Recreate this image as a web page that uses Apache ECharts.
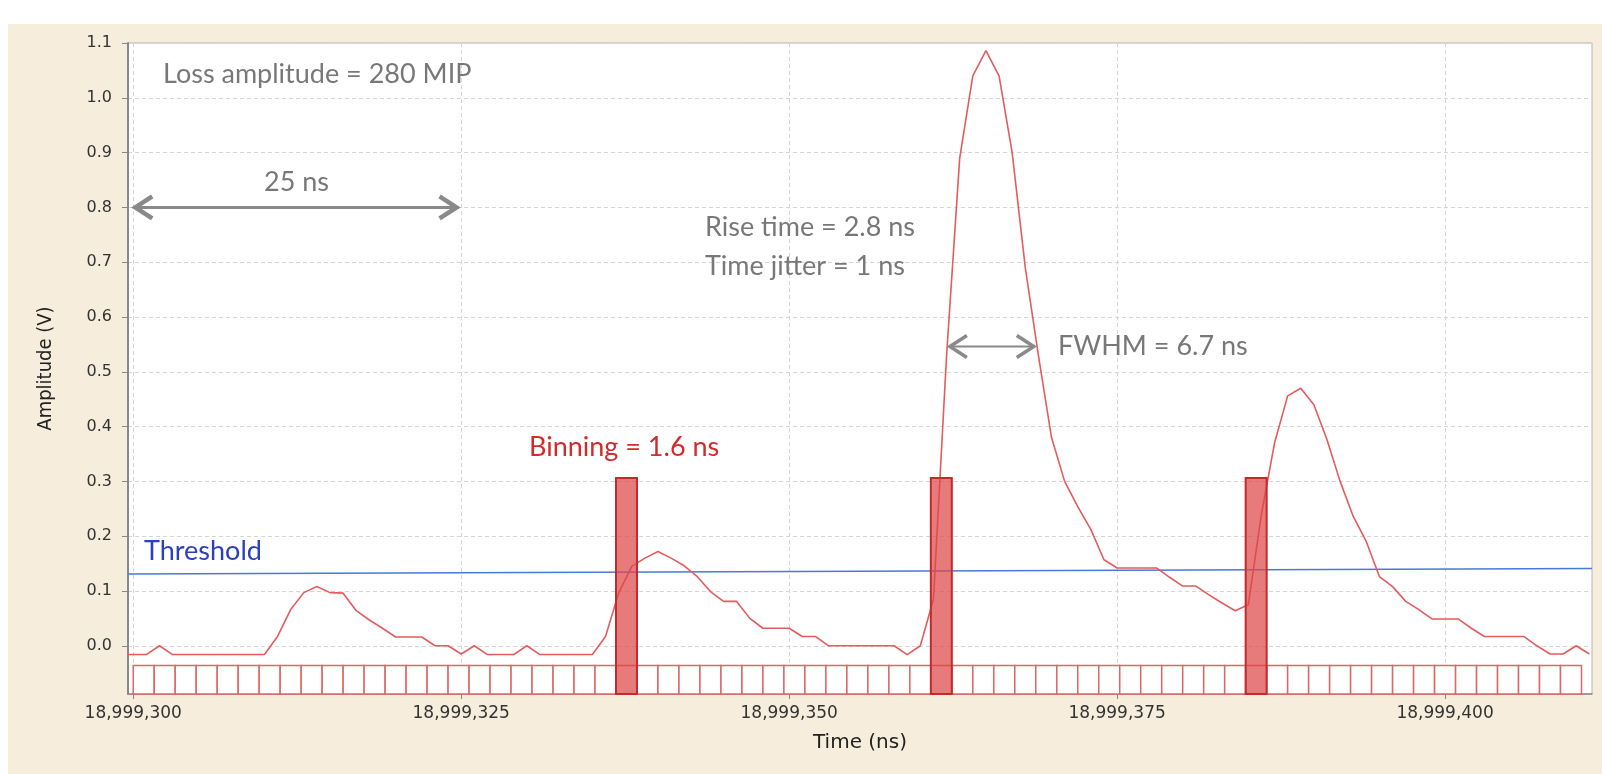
<!DOCTYPE html>
<html>
<head>
<meta charset="utf-8">
<title>Loss signal</title>
<script src="https://cdn.jsdelivr.net/npm/echarts@6/dist/echarts.min.js"></script>
<style>
  html, body { margin: 0; padding: 0; background: #fff; }
  .panel { position: absolute; left: 8px; top: 24px; width: 1594px; height: 750px; background: #f6eddc; }
  #chart { position: absolute; left: 0; top: 0; width: 1602px; height: 774px; }
</style>
</head>
<body>
<div class="panel"></div>
<div id="chart"></div>
<script>
// time in ns relative to 18,999,000
const timeOffset = 18999000;
const sampleTimes = [
  299, 300, 301, 302, 303, 304, 305, 306, 307, 308, 309, 310, 311, 312, 313, 314,
  315, 316, 317, 318, 319, 320, 321, 322, 323, 324, 325, 326, 327, 328, 329, 330,
  331, 332, 333, 334, 335, 336, 337, 338, 339, 340, 341, 342, 343, 344, 345, 346,
  347, 348, 349, 350, 351, 352, 353, 354, 355, 356, 357, 358, 359, 360, 361, 362,
  363, 364, 365, 366, 367, 368, 369, 370, 371, 372, 373, 374, 375, 376, 377, 378,
  379, 380, 381, 382, 383, 384, 385, 386, 387, 388, 389, 390, 391, 392, 393, 394,
  395, 396, 397, 398, 399, 400, 401, 402, 403, 404, 405, 406, 407, 408, 409, 410, 411
];
const amplitude = [
  -0.016, -0.016, -0.016, 0.000, -0.016, -0.016, -0.016, -0.016, -0.016, -0.016, -0.016, -0.016, 0.017, 0.066, 0.097, 0.108,
  0.097, 0.096, 0.064, 0.047, 0.032, 0.016, 0.016, 0.016, 0.000, 0.000, -0.015, 0.000, -0.016, -0.016, -0.016, 0.000,
  -0.016, -0.016, -0.016, -0.016, -0.016, 0.017, 0.096, 0.145, 0.160, 0.172, 0.160, 0.146, 0.126, 0.099, 0.081, 0.081,
  0.050, 0.032, 0.032, 0.032, 0.017, 0.017, 0.000, 0.000, 0.000, 0.000, 0.000, 0.000, -0.016, 0.000, 0.085, 0.530,
  0.890, 1.040, 1.086, 1.040, 0.900, 0.690, 0.530, 0.380, 0.300, 0.254, 0.212, 0.157, 0.142, 0.142, 0.142, 0.142,
  0.125, 0.109, 0.109, 0.093, 0.078, 0.064, 0.075, 0.240, 0.370, 0.456, 0.470, 0.440, 0.376, 0.300, 0.236, 0.190,
  0.126, 0.108, 0.081, 0.066, 0.049, 0.049, 0.049, 0.032, 0.017, 0.017, 0.017, 0.017, 0.000, -0.015, -0.015, 0.000, -0.015
];

// threshold line end points [time, amplitude]
const thresholdLine = [[299.6, 0.131], [411.2, 0.141]];

// 1.6 ns binning
const binStart = 300;
const binWidth = 1.6;
const binCount = 69;
const binBoxTop = -0.036;
const hitBins = [23, 38, 53];
const hitBarTop = 0.306;

// dimension arrows [from, to, amplitude]
const spacingArrow = [[300, 324.8, 0.8]];
const fwhmArrow = [[362.1, 368.8, 0.546]];

const xTicks = [300, 325, 350, 375, 400];
const yTicks = [0, 0.1, 0.2, 0.3, 0.4, 0.5, 0.6, 0.7, 0.8, 0.9, 1.0, 1.1];
const xMin = 299.6, xMax = 411.2, yMin = -0.088, yMax = 1.1;

const bins = [];
for (let i = 0; i < binCount; i++) {
  bins.push([binStart + i * binWidth, binStart + (i + 1) * binWidth]);
}
const hitData = hitBins.map(i => [binStart + i * binWidth, binStart + (i + 1) * binWidth, hitBarTop]);

const chart = echarts.init(document.getElementById('chart'));

function arrowItem(lineWidth) {
  return function (params, api) {
    const a = api.coord([api.value(0), api.value(2)]);
    const b = api.coord([api.value(1), api.value(2)]);
    const style = { stroke: '#8a8a8a', lineWidth: lineWidth, fill: null, lineJoin: 'miter' };
    const head = Object.assign({}, style, { lineWidth: lineWidth + 1.5 });
    return {
      type: 'group',
      children: [
        { type: 'line', shape: { x1: a[0] + 2, y1: a[1], x2: b[0] - 2, y2: b[1] }, style: style },
        { type: 'polyline', shape: { points: [[a[0] + 19, a[1] - 11], [a[0] + 2, a[1]], [a[0] + 19, a[1] + 11]] }, style: head },
        { type: 'polyline', shape: { points: [[b[0] - 19, b[1] - 11], [b[0] - 2, b[1]], [b[0] - 19, b[1] + 11]] }, style: head }
      ]
    };
  };
}

const noteFont = 'Lato, "Open Sans", sans-serif';
function note(text, left, top, color) {
  return {
    type: 'text', left: left, top: top, z: 100,
    style: { text: text, fill: color || '#787878', font: '27px ' + noteFont }
  };
}

chart.setOption({
  animation: false,
  grid: {
    left: 128, top: 43, right: 10, bottom: 80,
    show: true, backgroundColor: '#ffffff', borderColor: '#b5b5b5', borderWidth: 1
  },
  xAxis: {
    type: 'value',
    min: xMin,
    max: xMax,
    name: 'Time (ns)',
    nameLocation: 'middle',
    nameGap: 39,
    nameTextStyle: { fontFamily: 'DejaVu Sans', fontSize: 20, color: '#222' },
    axisLine: { show: true, onZero: false, lineStyle: { color: '#888', width: 1.5 } },
    axisTick: { show: true, length: 5, customValues: xTicks, lineStyle: { color: '#888' } },
    axisLabel: {
      customValues: xTicks,
      margin: 11,
      fontFamily: 'DejaVu Sans',
      fontSize: 17,
      color: '#333',
      formatter: v => (v + timeOffset).toLocaleString('en-US')
    },
    splitLine: { show: true, lineStyle: { color: '#d6d6d6', type: [4, 3], width: 1 } }
  },
  yAxis: {
    type: 'value',
    min: yMin,
    max: yMax,
    name: 'Amplitude (V)',
    nameLocation: 'middle',
    nameRotate: 90,
    nameGap: 72,
    nameTextStyle: { fontFamily: '"DejaVu Sans Condensed", "DejaVu Sans"', fontSize: 20, color: '#222' },
    axisLine: { show: true, lineStyle: { color: '#888', width: 2 } },
    axisTick: { show: true, length: 6, customValues: yTicks, lineStyle: { color: '#888' } },
    axisLabel: {
      customValues: yTicks,
      margin: 16,
      fontFamily: 'DejaVu Sans',
      fontSize: 16,
      color: '#333',
      formatter: v => v.toFixed(1)
    },
    splitLine: { show: true, lineStyle: { color: '#d6d6d6', type: [4, 3], width: 1 } }
  },
  series: [
    {
      name: 'bins',
      type: 'custom',
      z: 2,
      silent: true,
      data: bins,
      renderItem: function (params, api) {
        const p0 = api.coord([api.value(0), binBoxTop]);
        const p1 = api.coord([api.value(1), yMin]);
        return {
          type: 'rect',
          shape: { x: p0[0], y: p0[1], width: p1[0] - p0[0], height: p1[1] - p0[1] },
          style: { fill: '#fff', stroke: '#e06666', lineWidth: 1.5 }
        };
      }
    },
    {
      name: 'threshold',
      type: 'line',
      z: 3,
      data: thresholdLine,
      symbol: 'none',
      lineStyle: { color: '#4a78d8', width: 1.5 }
    },
    {
      name: 'signal',
      type: 'line',
      z: 4,
      data: sampleTimes.map((t, i) => [t, amplitude[i]]),
      symbol: 'none',
      lineStyle: { color: '#e45c5c', width: 1.6 }
    },
    {
      name: 'hit bins',
      type: 'custom',
      z: 5,
      data: hitData,
      renderItem: function (params, api) {
        const p0 = api.coord([api.value(0), api.value(2)]);
        const p1 = api.coord([api.value(1), yMin]);
        return {
          type: 'rect',
          shape: { x: p0[0], y: p0[1], width: p1[0] - p0[0], height: p1[1] - p0[1] },
          style: { fill: 'rgba(222, 70, 70, 0.72)', stroke: '#c42a2a', lineWidth: 2 }
        };
      }
    },
    {
      name: '25 ns',
      type: 'custom',
      z: 6,
      data: spacingArrow,
      renderItem: arrowItem(3)
    },
    {
      name: 'FWHM',
      type: 'custom',
      z: 6,
      data: fwhmArrow,
      renderItem: arrowItem(2)
    }
  ],
  graphic: [
    note('Loss amplitude = 280 MIP', 163, 61),
    note('25 ns', 264, 169),
    note('Rise time = 2.8 ns', 705, 214),
    note('Time jitter = 1 ns', 705, 253),
    note('FWHM = 6.7 ns', 1058, 333),
    note('Binning = 1.6 ns', 529, 434, '#d12b2b'),
    note('Threshold', 144, 538, '#2b3fbf')
  ]
});
</script>
</body>
</html>
